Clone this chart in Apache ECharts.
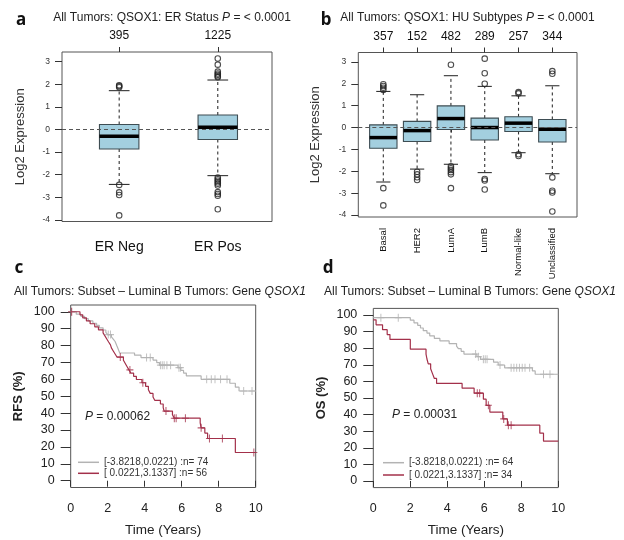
<!DOCTYPE html>
<html>
<head>
<meta charset="utf-8">
<title>QSOX1 expression and survival</title>
<script src="https://cdn.jsdelivr.net/npm/echarts@6.0.0/dist/echarts.min.js"></script>
<style>
  html, body { margin: 0; padding: 0; background: #fff; }
  #chart { width: 624px; height: 540px; }
</style>
</head>
<body>
<div id="chart"></div>
<script>
const FONT = '"Liberation Sans", Arial, sans-serif';

// panel a: ER status boxplot  [lower whisker, Q1, median, Q3, upper whisker]
const erCategories = ['ER Neg', 'ER Pos'];
const erCounts = ['395', '1225'];
const erBoxes = [
  [-2.43, -0.86, -0.30, 0.22, 1.72],
  [-2.04, -0.44, 0.10, 0.64, 2.19]
];
const erOutliers = [
  [1.96, 1.92, 1.87, -2.45, -2.78, -2.9, -3.8],
  [3.14, 2.87, 2.56, 2.48, 2.42, 2.36, 2.31, -2.12, -2.2, -2.27, -2.33, -2.4, -2.48, -2.77, -2.85, -2.93, -3.53]
];

// panel b: HU subtypes boxplot
const huCategories = ['Basal', 'HER2', 'LumA', 'LumB', 'Normal-like', 'Unclassified'];
const huCounts = ['357', '152', '482', '289', '257', '344'];
const huBoxes = [
  [-2.49, -0.95, -0.46, 0.12, 1.65],
  [-1.90, -0.64, -0.14, 0.28, 1.50],
  [-1.68, -0.09, 0.41, 0.99, 2.37],
  [-2.06, -0.57, 0.00, 0.43, 1.88],
  [-1.15, -0.18, 0.20, 0.49, 1.45],
  [-2.11, -0.66, -0.08, 0.37, 1.91]
];
const huOutliers = [
  [1.98, 1.9, 1.82, 1.72, -2.77, -3.56],
  [-2.02, -2.14, -2.27, -2.4],
  [2.87, -1.77, -1.86, -1.94, -2.04, -2.14, -2.77],
  [3.15, 2.48, 2.0, -2.35, -2.42, -2.83],
  [1.62, 1.56, -1.22, -1.3],
  [2.58, 2.46, -2.28, -2.89, -2.97, -3.84]
];
const boxYTicks = [-4, -3, -2, -1, 0, 1, 2, 3];

// panel c: RFS, Kaplan-Meier steps [time, survival %] and censor times
const rfsLowName = '[-3.8218,0.0221) :n= 74';
const rfsHighName = '[ 0.0221,3.1337] :n= 56';
const rfsLowSteps = [[0, 100], [0.3, 98.6], [0.55, 97.3], [0.75, 95.9], [0.95, 94.6], [1.2, 93.2], [1.4, 91.9],
  [1.55, 90.5], [1.75, 89.2], [1.9, 87.8], [2.0, 86.5], [2.2, 85.1], [2.3, 83.8], [2.4, 82.4], [2.45, 81.1],
  [2.5, 79.7], [2.55, 78.4], [2.6, 77.0], [2.65, 75.6], [3.45, 74.3], [3.8, 72.9], [4.45, 71.4], [4.65, 69.9],
  [4.8, 68.4], [5.8, 66.9], [5.95, 65.3], [6.1, 63.7], [6.25, 62.0], [7.05, 60.0], [8.6, 57.7], [8.9, 55.4],
  [9.1, 53.1], [10, 53.1]];
const rfsLowCensor = [0.05, 2.03, 2.15, 4.1, 4.3, 4.85, 4.95, 5.05, 5.2, 5.4, 5.85, 5.93, 7.35, 7.6, 7.8, 8.1, 8.45, 9.35, 9.8];
const rfsHighSteps = [[0, 100], [0.5, 98.2], [0.65, 96.4], [0.85, 94.6], [1.05, 92.9], [1.3, 91.1], [1.5, 89.3],
  [1.75, 87.5], [1.85, 85.7], [1.95, 83.9], [2.05, 82.1], [2.15, 80.4], [2.2, 78.6], [2.3, 76.8], [2.4, 75.0],
  [2.5, 73.2], [2.85, 71.3], [2.95, 69.4], [3.05, 67.5], [3.15, 65.6], [3.25, 63.7], [3.4, 61.8], [3.55, 59.9],
  [3.85, 58.0], [4.05, 55.9], [4.2, 53.8], [4.3, 51.7], [4.45, 49.6], [4.55, 47.5], [4.85, 45.4], [5.0, 43.3],
  [5.05, 41.2], [5.5, 39.1], [5.6, 37.0], [7.0, 34.2], [7.05, 31.3], [7.25, 28.2], [7.4, 25.0], [8.9, 16.7], [10, 16.7]];
const rfsHighCensor = [0.05, 2.68, 3.2, 3.9, 5.15, 5.6, 5.7, 6.2, 7.05, 7.5, 8.2, 9.9];

// panel d: OS
const osLowName = '[-3.8218,0.0221) :n= 64';
const osHighName = '[ 0.0221,3.1337] :n= 34';
const osLowSteps = [[0, 98.4], [2.0, 96.9], [2.2, 95.3], [2.4, 93.8], [2.55, 92.2], [2.7, 90.6], [2.9, 89.1],
  [3.05, 87.5], [3.3, 85.9], [3.6, 84.4], [4.1, 82.8], [4.5, 81.2], [4.6, 79.7], [4.75, 78.1], [4.9, 76.5],
  [5.6, 74.9], [5.8, 73.3], [6.5, 71.6], [6.75, 69.9], [7.1, 68.2], [8.6, 66.3], [8.75, 64.3], [10, 64.3]];
const osLowCensor = [0.41, 1.35, 5.53, 5.68, 5.95, 6.05, 6.15, 6.85, 7.45, 7.6, 7.75, 7.9, 8.05, 8.2, 8.45, 9.2, 9.55];
const osHighSteps = [[0, 97.1], [0.15, 94.1], [0.5, 91.2], [0.75, 88.2], [0.9, 85.3], [2.0, 79.4], [2.85, 76.5],
  [2.9, 73.5], [2.97, 70.6], [3.1, 67.6], [3.2, 64.7], [3.3, 61.8], [3.42, 58.8], [4.8, 55.9], [5.45, 52.9],
  [5.95, 49.3], [6.1, 45.6], [6.3, 41.5], [7.0, 37.4], [7.25, 33.6], [9.0, 28.8], [9.2, 24.0], [10, 24.0]];
const osHighCensor = [5.62, 5.75, 6.22, 7.05, 7.3, 7.45];

const kmXTicks = [0, 2, 4, 6, 8, 10];
const kmYTicks = [0, 10, 20, 30, 40, 50, 60, 70, 80, 90, 100];

const GRAY = '#b3b3b3';
const RED = '#a3304a';
const PLUS = 'path://M3,0h1v3h3v1h-3v3h-1v-3h-3v-1h3z';

function survAt(steps, t) {
  let v = steps[0][1];
  steps.forEach(function (s) { if (s[0] <= t) v = s[1]; });
  return v;
}

function boxRenderer(boxW, capW) {
  return function (params, api) {
    const x = api.value(0);
    const cx = api.coord([x, 0])[0];
    const half = api.size([boxW, 0])[0] / 2;
    const capHalf = api.size([capW, 0])[0] / 2;
    const yLo = api.coord([x, api.value(1)])[1];
    const yQ1 = api.coord([x, api.value(2)])[1];
    const yMed = api.coord([x, api.value(3)])[1];
    const yQ3 = api.coord([x, api.value(4)])[1];
    const yHi = api.coord([x, api.value(5)])[1];
    const dash = { stroke: '#333', lineWidth: 1.1, lineDash: [3, 3] };
    const solid = { stroke: '#333', lineWidth: 1.1 };
    return {
      type: 'group',
      children: [
        { type: 'line', shape: { x1: cx, y1: yQ3, x2: cx, y2: yHi }, style: dash },
        { type: 'line', shape: { x1: cx, y1: yQ1, x2: cx, y2: yLo }, style: dash },
        { type: 'line', shape: { x1: cx - capHalf, y1: yHi, x2: cx + capHalf, y2: yHi }, style: solid },
        { type: 'line', shape: { x1: cx - capHalf, y1: yLo, x2: cx + capHalf, y2: yLo }, style: solid },
        { type: 'rect', shape: { x: cx - half, y: yQ3, width: half * 2, height: yQ1 - yQ3 },
          style: { fill: '#a3cfdf', stroke: '#3e4d53', lineWidth: 1.1 } },
        { type: 'line', shape: { x1: cx - half, y1: yMed, x2: cx + half, y2: yMed },
          style: { stroke: '#000', lineWidth: 3.5 } }
      ]
    };
  };
}

function outlierPoints(groups) {
  const pts = [];
  groups.forEach(function (arr, i) {
    arr.forEach(function (v) { pts.push([i + 1, v]); });
  });
  return pts;
}

function positions(n) {
  const out = [];
  for (let i = 1; i <= n; i++) out.push(i);
  return out;
}

const zeroLine = {
  silent: true, symbol: 'none', label: { show: false },
  lineStyle: { type: [4, 3], color: '#555', width: 1.1 },
  data: [{ yAxis: 0 }]
};

function boxYAxis(gridIndex, min, max, gap) {
  return {
    type: 'value', gridIndex: gridIndex, min: min, max: max,
    name: 'Log2 Expression', nameLocation: 'middle', nameRotate: 90, nameGap: gap,
    nameTextStyle: { fontSize: 13, fontFamily: FONT, color: '#333' },
    axisLine: { show: false }, splitLine: { show: false },
    axisTick: { customValues: boxYTicks, length: 7, lineStyle: { color: '#333' } },
    axisLabel: { customValues: boxYTicks, fontSize: 8.5, margin: 12, color: '#333', fontFamily: FONT }
  };
}

function kmXAxis(gridIndex) {
  return {
    type: 'value', gridIndex: gridIndex, min: 0, max: 10, interval: 2,
    name: 'Time (Years)', nameLocation: 'middle', nameGap: 35.5,
    nameTextStyle: { fontSize: 13.5, fontFamily: FONT, color: '#222' },
    axisLine: { show: false }, splitLine: { show: false },
    axisTick: { customValues: kmXTicks, length: 6, lineStyle: { color: '#333' } },
    axisLabel: { customValues: kmXTicks, fontSize: 12.5, margin: 14.5, color: '#222', fontFamily: FONT }
  };
}

function kmYAxis(gridIndex, name, gap) {
  return {
    type: 'value', gridIndex: gridIndex, min: -4, max: 104,
    name: name, nameLocation: 'middle', nameRotate: 90, nameGap: gap,
    nameTextStyle: { fontSize: 13, fontWeight: 'bold', fontFamily: FONT, color: '#222' },
    axisLine: { show: false }, splitLine: { show: false },
    axisTick: { customValues: kmYTicks, length: 10, lineStyle: { color: '#333' } },
    axisLabel: { customValues: kmYTicks, fontSize: 12.5, margin: 16, color: '#222', fontFamily: FONT }
  };
}

function kmSeries(name, steps, censor, color, axis) {
  return [
    {
      name: name, type: 'line', step: 'end', xAxisIndex: axis, yAxisIndex: axis - 2,
      data: steps, showSymbol: false, symbol: 'none',
      itemStyle: { color: color }, lineStyle: { color: color, width: 1.2 }, z: 3
    },
    {
      type: 'scatter', xAxisIndex: axis, yAxisIndex: axis - 2,
      data: censor.map(function (t) { return [t, survAt(steps, t)]; }),
      symbol: PLUS, symbolSize: [7, 8], itemStyle: { color: color }, z: 4
    }
  ];
}

function richText(x, y, text, size, align) {
  return {
    type: 'text', x: x, y: y,
    style: {
      text: text, align: align, verticalAlign: 'middle', fill: '#222',
      rich: {
        n: { fontSize: size, fontFamily: FONT, fill: '#222' },
        i: { fontSize: size, fontFamily: FONT, fontStyle: 'italic', fill: '#222' }
      }
    }
  };
}

function panelLetter(x, y, t) {
  return {
    type: 'text', x: x, y: y,
    style: { text: t, font: 'bold 17px "Noto Sans", sans-serif', fill: '#111', align: 'center', verticalAlign: 'middle' }
  };
}

const chart = echarts.init(document.getElementById('chart'));

const option = {
  animation: false,
  backgroundColor: '#fff',
  textStyle: { fontFamily: FONT },
  grid: [
    { left: 62, top: 52, width: 210, height: 169.5, show: true, borderColor: '#555', borderWidth: 1, outerBoundsMode: 'none' },
    { left: 358.3, top: 52.5, width: 218.7, height: 164.5, show: true, borderColor: '#555', borderWidth: 1, outerBoundsMode: 'none' },
    { left: 70.7, top: 305, width: 185, height: 182.5, show: true, borderColor: '#555', borderWidth: 1, outerBoundsMode: 'none' },
    { left: 373.3, top: 308.4, width: 185, height: 179.2, show: true, borderColor: '#555', borderWidth: 1, outerBoundsMode: 'none' }
  ],
  xAxis: [
    {
      type: 'value', gridIndex: 0, min: 0.42, max: 2.55, position: 'bottom',
      axisLine: { show: false }, splitLine: { show: false },
      axisTick: { customValues: positions(2), length: 6, lineStyle: { color: '#333' } },
      axisLabel: { customValues: positions(2), fontSize: 14, margin: 19, color: '#111', fontFamily: FONT,
        formatter: function (v) { return erCategories[Math.round(v) - 1]; } }
    },
    {
      type: 'value', gridIndex: 0, min: 0.42, max: 2.55, position: 'top',
      axisLine: { show: false }, splitLine: { show: false },
      axisTick: { customValues: positions(2), length: 5, lineStyle: { color: '#333' } },
      axisLabel: { customValues: positions(2), fontSize: 12, margin: 10, color: '#111', fontFamily: FONT,
        formatter: function (v) { return erCounts[Math.round(v) - 1]; } }
    },
    {
      type: 'value', gridIndex: 1, min: 0.26, max: 6.73, position: 'bottom',
      axisLine: { show: false }, splitLine: { show: false },
      axisTick: { customValues: positions(6), length: 5, lineStyle: { color: '#333' } },
      axisLabel: { customValues: positions(6), fontSize: 9.5, margin: 11, rotate: 90, color: '#111', fontFamily: FONT,
        formatter: function (v) { return huCategories[Math.round(v) - 1]; } }
    },
    {
      type: 'value', gridIndex: 1, min: 0.26, max: 6.73, position: 'top',
      axisLine: { show: false }, splitLine: { show: false },
      axisTick: { customValues: positions(6), length: 5, lineStyle: { color: '#333' } },
      axisLabel: { customValues: positions(6), fontSize: 12, margin: 10, color: '#111', fontFamily: FONT,
        formatter: function (v) { return huCounts[Math.round(v) - 1]; } }
    },
    kmXAxis(2),
    kmXAxis(3)
  ],
  yAxis: [
    boxYAxis(0, -4.07, 3.43, 35),
    boxYAxis(1, -4.09, 3.43, 36),
    kmYAxis(2, 'RFS (%)', 46),
    kmYAxis(3, 'OS (%)', 45)
  ],
  legend: [
    {
      data: [rfsLowName, rfsHighName], orient: 'vertical', left: 78, top: 457.3,
      itemWidth: 21, itemHeight: 1.5, itemGap: 1, icon: 'rect', padding: 0, selectedMode: false,
      textStyle: { fontSize: 10, lineHeight: 10, color: '#333', fontFamily: FONT }
    },
    {
      data: [osLowName, osHighName], orient: 'vertical', left: 383, top: 457.7,
      itemWidth: 21, itemHeight: 1.5, itemGap: 2.3, icon: 'rect', padding: 0, selectedMode: false,
      textStyle: { fontSize: 10, lineHeight: 10, color: '#333', fontFamily: FONT }
    }
  ],
  series: [
    {
      type: 'custom', xAxisIndex: 0, yAxisIndex: 0, z: 2,
      renderItem: boxRenderer(0.4, 0.21),
      encode: { x: 0, y: [1, 2, 3, 4, 5] },
      data: erBoxes.map(function (b, i) { return [i + 1].concat(b); })
    },
    {
      type: 'scatter', xAxisIndex: 0, yAxisIndex: 0, z: 3,
      data: outlierPoints(erOutliers), symbol: 'circle', symbolSize: 5.5,
      itemStyle: { color: 'rgba(255,255,255,0)', borderColor: '#222', borderWidth: 1.1 },
      markLine: zeroLine
    },
    {
      type: 'custom', xAxisIndex: 2, yAxisIndex: 1, z: 2,
      renderItem: boxRenderer(0.81, 0.42),
      encode: { x: 0, y: [1, 2, 3, 4, 5] },
      data: huBoxes.map(function (b, i) { return [i + 1].concat(b); })
    },
    {
      type: 'scatter', xAxisIndex: 2, yAxisIndex: 1, z: 3,
      data: outlierPoints(huOutliers), symbol: 'circle', symbolSize: 5.5,
      itemStyle: { color: 'rgba(255,255,255,0)', borderColor: '#222', borderWidth: 1.1 },
      markLine: zeroLine
    }
  ]
    .concat(kmSeries(rfsLowName, rfsLowSteps, rfsLowCensor, GRAY, 4))
    .concat(kmSeries(rfsHighName, rfsHighSteps, rfsHighCensor, RED, 4))
    .concat(kmSeries(osLowName, osLowSteps, osLowCensor, GRAY, 5))
    .concat(kmSeries(osHighName, osHighSteps, osHighCensor, RED, 5)),
  graphic: [
    panelLetter(21, 20, 'a'),
    panelLetter(326, 20, 'b'),
    panelLetter(19, 268, 'c'),
    panelLetter(328, 268, 'd'),
    richText(172, 17.5, '{n|All Tumors: QSOX1: ER Status }{i|P}{n| = < 0.0001}', 12, 'center'),
    richText(467.5, 17.5, '{n|All Tumors: QSOX1: HU Subtypes }{i|P}{n| = < 0.0001}', 12, 'center'),
    richText(160, 292, '{n|All Tumors: Subset \u2013 Luminal B Tumors: Gene }{i|QSOX1}', 12, 'center'),
    richText(470, 292, '{n|All Tumors: Subset \u2013 Luminal B Tumors: Gene }{i|QSOX1}', 12, 'center'),
    richText(85, 417, '{i|P}{n| = 0.00062}', 12, 'left'),
    richText(392, 415, '{i|P}{n| = 0.00031}', 12, 'left')
  ]
};

chart.setOption(option);
</script>
</body>
</html>
